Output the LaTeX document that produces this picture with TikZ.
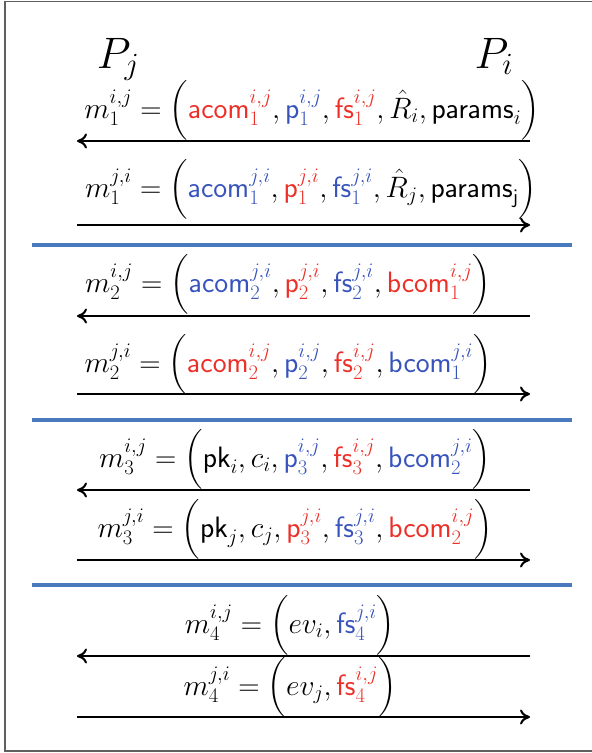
\documentclass[tikz,border=0pt]{standalone}
\usepackage{fix-cm}
\usepackage{amsmath}
\usetikzlibrary{arrows.meta}
\definecolor{cred}{RGB}{236,48,40}
\definecolor{cblue}{RGB}{56,84,188}
\definecolor{sepblue}{RGB}{74,122,190}
\definecolor{framegray}{RGB}{95,95,95}
\newcommand{\redc}[1]{{\color{cred}#1}}
\newcommand{\bluc}[1]{{\color{cblue}#1}}
\newcommand{\sfx}[1]{\mathsf{#1}}
\newcommand{\lp}{\mathrel{}\Bigl(}
\newcommand{\rp}{\Bigr)}
\tikzset{
  msg/.style={inner sep=0pt, anchor=base, font=\fontsize{29.5}{35}\selectfont},
  party/.style={inner sep=0pt, anchor=base, font=\fontsize{44}{52}\selectfont},
  arr/.style={line width=2pt, -{To[length=10pt,width=15pt]}},
  sepline/.style={sepblue, line width=3.2pt},
  frame/.style={framegray, line width=1.6pt}
}
\begin{document}
\begin{tikzpicture}[x=1pt,y=-1pt]
\useasboundingbox (0,0) rectangle (592,753);
\draw[frame] (600,1.5) -- (5,1.5) -- (5,751) -- (600,751);

\node[party] (Pj) at (118,68) {$P_j$};
\node[party] (Pi) at (494,68) {$P_i$};

% row 1
\node[msg] (t1) at (312,118) {$m_1^{i,j} = \Bigl(\redc{\sfx{acom}_1^{i,j}}, \bluc{\sfx{p}_1^{i,j}}, \redc{\sfx{fs}_1^{i,j}}, \hat{R}_i, \sfx{params}_i\Bigr)$};
\coordinate (a1l) at (77,141); \coordinate (a1r) at (530,141);
\draw[arr] (a1r) -- (a1l);
% row 2
\node[msg] (t2) at (311,197) {$m_1^{j,i} = \Bigl(\bluc{\sfx{acom}_1^{j,i}}, \redc{\sfx{p}_1^{j,i}}, \bluc{\sfx{fs}_1^{j,i}}, \hat{R}_j, \sfx{params}_\sfx{j}\Bigr)$};
\coordinate (a2l) at (77,225); \coordinate (a2r) at (530,225);
\draw[arr] (a2l) -- (a2r);

\coordinate (s1l) at (32,245); \coordinate (s1r) at (572,245);
\draw[sepline] (s1l) -- (s1r);

% row 3
\node[msg] (t3) at (288,292) {$m_2^{i,j} = \Bigl(\bluc{\sfx{acom}_2^{j,i}}, \redc{\sfx{p}_2^{j,i}}, \bluc{\sfx{fs}_2^{j,i}}, \redc{\sfx{bcom}_1^{i,j}}\Bigr)$};
\coordinate (a3l) at (77,316); \coordinate (a3r) at (530,316);
\draw[arr] (a3r) -- (a3l);
% row 4
\node[msg] (t4) at (288,372) {$m_2^{j,i} = \Bigl(\redc{\sfx{acom}_2^{i,j}}, \bluc{\sfx{p}_2^{i,j}}, \redc{\sfx{fs}_2^{i,j}}, \bluc{\sfx{bcom}_1^{j,i}}\Bigr)$};
\coordinate (a4l) at (77,394); \coordinate (a4r) at (530,394);
\draw[arr] (a4l) -- (a4r);

\coordinate (s2l) at (32,420); \coordinate (s2r) at (572,420);
\draw[sepline] (s2l) -- (s2r);

% row 5
\node[msg] (t5) at (295,467) {$m_3^{i,j} = \Bigl(\sfx{pk}_i, c_i, \bluc{\sfx{p}_3^{i,j}}, \redc{\sfx{fs}_3^{i,j}}, \bluc{\sfx{bcom}_2^{j,i}}\Bigr)$};
\coordinate (a5l) at (77,490); \coordinate (a5r) at (530,490);
\draw[arr] (a5r) -- (a5l);
% row 6
\node[msg] (t6) at (295,537) {$m_3^{j,i} = \Bigl(\sfx{pk}_j, c_j, \redc{\sfx{p}_3^{j,i}}, \bluc{\sfx{fs}_3^{j,i}}, \redc{\sfx{bcom}_2^{i,j}}\Bigr)$};
\coordinate (a6l) at (77,560); \coordinate (a6r) at (530,560);
\draw[arr] (a6l) -- (a6r);

\coordinate (s3l) at (32,585); \coordinate (s3r) at (572,585);
\draw[sepline] (s3l) -- (s3r);

% row 7
\node[msg] (t7) at (290,633) {$m_4^{i,j} = \Bigl(ev_i, \bluc{\sfx{fs}_4^{j,i}}\Bigr)$};
\coordinate (a7l) at (77,656); \coordinate (a7r) at (530,656);
\draw[arr] (a7r) -- (a7l);
% row 8
\node[msg] (t8) at (290,695) {$m_4^{j,i} = \Bigl(ev_j, \redc{\sfx{fs}_4^{i,j}}\Bigr)$};
\coordinate (a8l) at (77,717); \coordinate (a8r) at (530,717);
\draw[arr] (a8l) -- (a8r);
\end{tikzpicture}
\end{document}
